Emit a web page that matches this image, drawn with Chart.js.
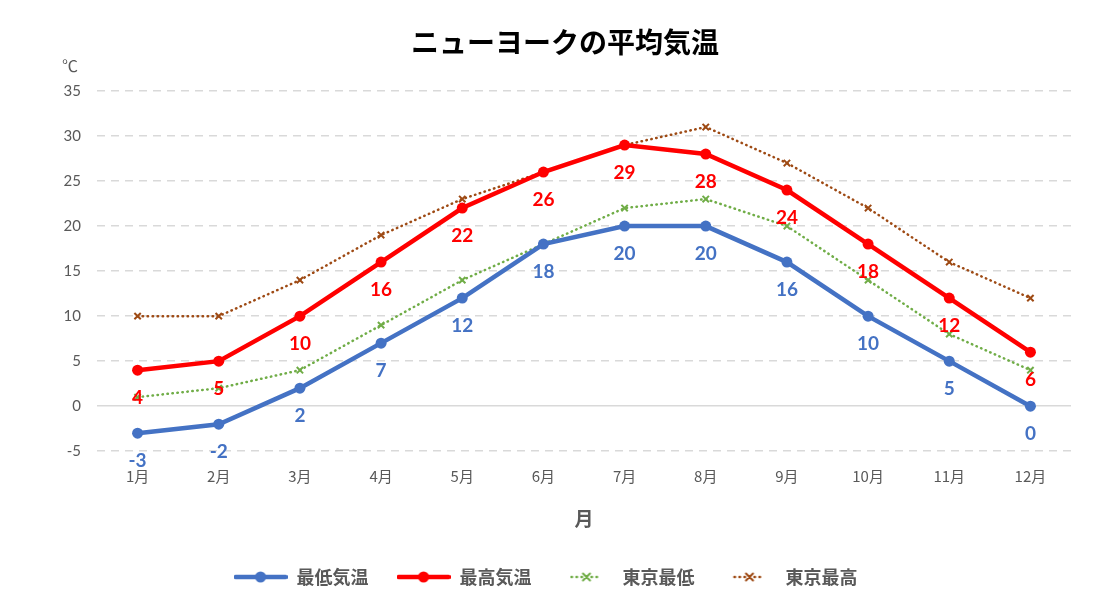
<!DOCTYPE html>
<html>
<head>
<meta charset="utf-8">
<script src="https://cdn.jsdelivr.net/npm/chart.js@4"></script>
<style>
  html, body { margin: 0; padding: 0; background: #fff; }
  #wrap { width: 1095px; height: 606px; position: relative; }
</style>
</head>
<body>
<div id="wrap"><canvas id="grafico"></canvas></div>
<script>
// datos
const meses = ['1月','2月','3月','4月','5月','6月','7月','8月','9月','10月','11月','12月'];
const nyMin = [-3, -2, 2, 7, 12, 18, 20, 20, 16, 10, 5, 0];
const nyMax = [4, 5, 10, 16, 22, 26, 29, 28, 24, 18, 12, 6];
const tokyoMin = [1, 2, 4, 9, 14, 18, 22, 23, 20, 14, 8, 4];
const tokyoMax = [10, 10, 14, 19, 23, 26, 29, 31, 27, 22, 16, 12];
const yTicks = [-5, 0, 5, 10, 15, 20, 25, 30, 35];

const colores = {
    azul: '#4472C4',
    rojo: '#FF0000',
    verde: '#70AD47',
    marron: '#9E4A14'
};

const fuenteJP = '"Noto Sans CJK JP", "Noto Sans", sans-serif';
const fuenteNum = 'Lato, "Noto Sans", sans-serif';

// icono de leyenda: linea + marcador
function iconoLeyenda(color, punteado) {
    const c = document.createElement('canvas');
    const w = punteado ? 34 : 54, h = 14;
    c.width = w; c.height = h;
    const g = c.getContext('2d');
    g.strokeStyle = color;
    g.lineCap = 'round';
    if (punteado) {
        g.lineWidth = 2.5;
        g.setLineDash([0.5, 4.5]);
    } else {
        g.lineWidth = 4.5;
    }
    g.beginPath();
    g.moveTo(2, h / 2);
    g.lineTo(w - 2, h / 2);
    g.stroke();
    g.setLineDash([]);
    if (punteado) {
        g.lineWidth = 2;
        const r = 3.5, cx = w / 2, cy = h / 2;
        g.beginPath();
        g.moveTo(cx - r, cy - r); g.lineTo(cx + r, cy + r);
        g.moveTo(cx + r, cy - r); g.lineTo(cx - r, cy + r);
        g.stroke();
    } else {
        g.fillStyle = color;
        g.beginPath();
        g.arc(w / 2, h / 2, 5.5, 0, Math.PI * 2);
        g.fill();
    }
    return c;
}

// titulo, unidad y etiquetas de datos
const etiquetas = {
    id: 'etiquetas',
    afterDatasetsDraw(chart) {
        const ctx = chart.ctx;
        ctx.save();
        ctx.font = 'bold 19px ' + fuenteNum;
        ctx.textAlign = 'center';
        ctx.textBaseline = 'middle';
        [0, 1].forEach(i => {
            const meta = chart.getDatasetMeta(i);
            const ds = chart.data.datasets[i];
            ctx.fillStyle = ds.borderColor;
            meta.data.forEach((p, j) => {
                ctx.fillText(String(ds.data[j]), p.x, p.y + 28);
            });
        });
        // titulo
        ctx.font = 'bold 28px ' + fuenteJP;
        ctx.fillStyle = '#000';
        ctx.fillText('ニューヨークの平均気温', 565, 42);
        // unidad
        ctx.font = '16px ' + fuenteJP;
        ctx.fillStyle = '#595959';
        ctx.textAlign = 'left';
        ctx.fillText('℃', 62, 66);
        ctx.restore();
    }
};

const lineaSolida = (label, data, color) => ({
    label: label,
    data: data,
    borderColor: color,
    backgroundColor: color,
    borderWidth: 4.5,
    pointStyle: 'circle',
    pointRadius: 5.5,
    pointHoverRadius: 5.5,
    pointBorderWidth: 0,
    pointBackgroundColor: color,
    tension: 0
});

const lineaPunteada = (label, data, color) => ({
    label: label,
    data: data,
    borderColor: color,
    backgroundColor: color,
    borderWidth: 2.5,
    borderDash: [0.5, 4.5],
    borderCapStyle: 'round',
    pointStyle: 'crossRot',
    pointRadius: 4.5,
    pointHoverRadius: 4.5,
    pointBorderWidth: 2,
    pointBorderColor: color,
    tension: 0
});

new Chart(document.getElementById('grafico'), {
    type: 'line',
    data: {
        labels: meses,
        datasets: [
            lineaSolida('最低気温', nyMin, colores.azul),
            lineaSolida('最高気温', nyMax, colores.rojo),
            lineaPunteada('東京最低', tokyoMin, colores.verde),
            lineaPunteada('東京最高', tokyoMax, colores.marron)
        ]
    },
    options: {
        responsive: true,
        maintainAspectRatio: false,
        animation: false,
        layout: { padding: { left: 20, right: 24, top: 91, bottom: 10 } },
        plugins: {
            title: { display: false },
            legend: {
                position: 'bottom',
                labels: {
                    usePointStyle: true,
                    pointStyleWidth: 54,
                    color: '#595959',
                    font: { family: fuenteJP, size: 18, weight: 'bold' },
                    padding: 28,
                    generateLabels(chart) {
                        return chart.data.datasets.map((ds, i) => ({
                            text: ds.label,
                            fontColor: '#595959',
                            pointStyle: iconoLeyenda(ds.borderColor, i >= 2),
                            lineWidth: 0,
                            strokeStyle: 'transparent',
                            fillStyle: 'transparent',
                            datasetIndex: i
                        }));
                    }
                }
            },
            tooltip: { enabled: false }
        },
        scales: {
            x: {
                offset: true,
                grid: { display: false },
                border: { display: false },
                ticks: { color: '#595959', font: { family: fuenteJP, size: 15 }, padding: 8 },
                title: {
                    display: true,
                    text: '月',
                    color: '#595959',
                    font: { family: fuenteJP, size: 19, weight: 'bold' },
                    padding: { top: 14, bottom: 10 }
                }
            },
            y: {
                min: -5,
                max: 35,
                afterBuildTicks(s) { s.ticks = yTicks.map(v => ({ value: v })); },
                afterFit(s) { s.width = 77; },
                border: { display: false, dash: ctx => ctx.tick && ctx.tick.value === 0 ? [] : [8, 6] },
                grid: {
                    color: '#D9D9D9',
                    lineWidth: 1.5,
                    drawTicks: false
                },
                ticks: { color: '#595959', font: { family: fuenteNum, size: 15 }, padding: 16 }
            }
        }
    },
    plugins: [etiquetas]
});
</script>
</body>
</html>
